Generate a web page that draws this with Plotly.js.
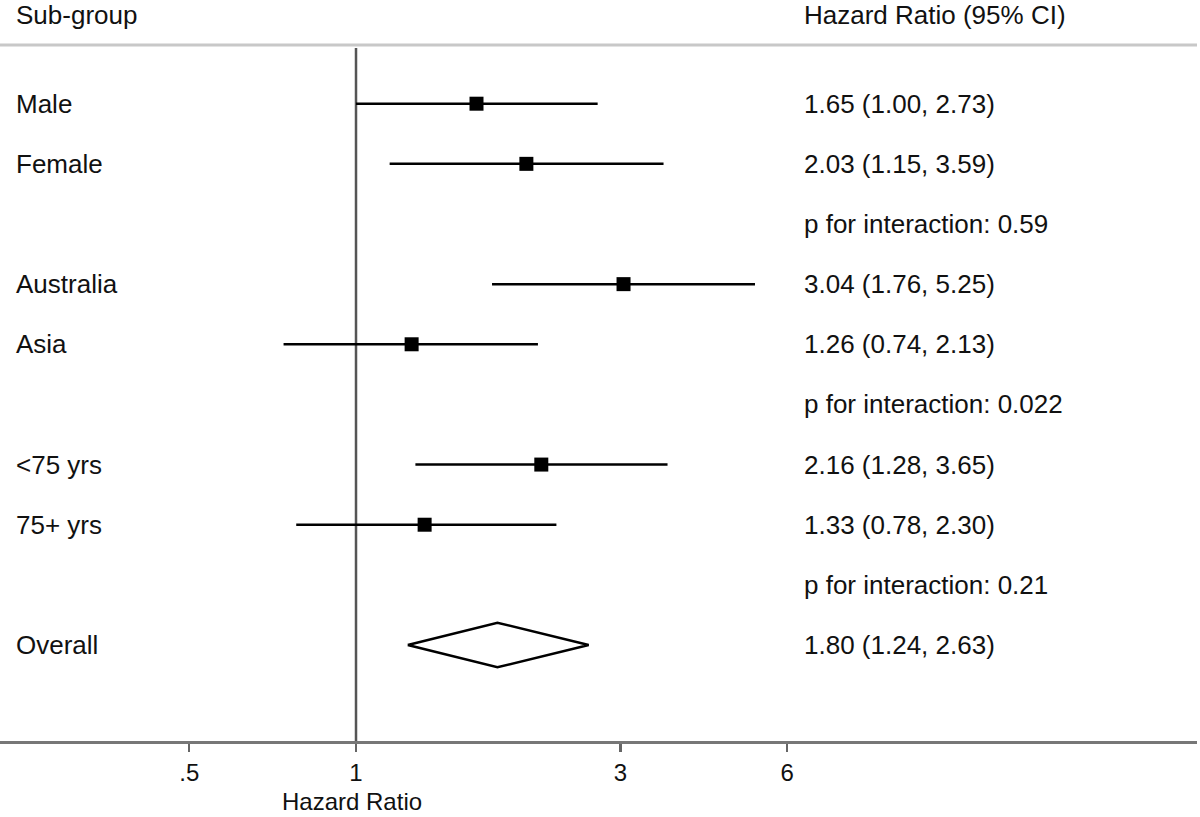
<!DOCTYPE html>
<html>
<head>
<meta charset="utf-8">
<script src="https://cdn.plot.ly/plotly-3.0.1.min.js"></script>
<style>html,body{margin:0;padding:0;background:#fff;}#chart{width:1200px;height:817px;}</style>
</head>
<body>
<div id="chart"></div>
<script>
// ---- data ----
const subgroups = ["Male", "Female", "Australia", "Asia", "<75 yrs", "75+ yrs"];
const hr = [1.65, 2.03, 3.04, 1.26, 2.16, 1.33];
const ciLow = [1.00, 1.15, 1.76, 0.74, 1.28, 0.78];
const ciHigh = [2.73, 3.59, 5.25, 2.13, 3.65, 2.30];
const subgroupRows = [0, 1, 3, 4, 6, 7];
const pInteraction = ["0.59", "0.022", "0.21"];
const pRows = [2, 5, 8];
const overallLabel = "Overall";
const overallHR = 1.80, overallLow = 1.24, overallHigh = 2.63;
const overallRow = 9;
const nullValue = 1;
const tickVals = [0.5, 1, 3, 6];
const tickText = [".5", "1", "3", "6"];

// ---- styling ----
const FONT = "Liberation Sans, Arial, Helvetica, sans-serif";
const FS = 26;
const AXFS = 24;
const COLX = 802 / 1197;
const LEFTX = 14 / 1197;
const DIAMOND_HALF = 0.37;
const Y_RANGE = [10.596, -0.976];

const fmt = v => v.toFixed(2);

// CI lines
const lx = [], ly = [];
subgroups.forEach((s, i) => {
  lx.push(ciLow[i], ciHigh[i], null);
  ly.push(subgroupRows[i], subgroupRows[i], null);
});

const traces = [
  {type: "scatter", mode: "lines", x: [nullValue, nullValue], y: [Y_RANGE[1] + 0.05, Y_RANGE[0]],
   line: {color: "#555", width: 2.5}, hoverinfo: "skip", showlegend: false},
  {type: "scatter", mode: "lines", x: lx, y: ly, line: {color: "#000", width: 2.5}, hoverinfo: "skip", showlegend: false},
  {type: "scatter", mode: "markers", x: hr, y: subgroupRows,
   marker: {symbol: "square", size: 14, color: "#000"}, showlegend: false},
  {type: "scatter", mode: "lines",
   x: [overallLow, overallHR, overallHigh, overallHR, overallLow],
   y: [overallRow, overallRow - DIAMOND_HALF, overallRow, overallRow + DIAMOND_HALF, overallRow],
   fill: "toself", fillcolor: "#fff", line: {color: "#000", width: 2.5}, showlegend: false}
];

const annotations = [];
const addText = (text, xpaper, y) => annotations.push({
  text: text, xref: "paper", x: xpaper, yref: "y", y: y, xanchor: "left", yanchor: "middle",
  showarrow: false, font: {family: FONT, size: FS, color: "#111"}
});
subgroups.forEach((s, i) => {
  addText(s, LEFTX, subgroupRows[i]);
  addText(fmt(hr[i]) + " (" + fmt(ciLow[i]) + ", " + fmt(ciHigh[i]) + ")", COLX, subgroupRows[i]);
});
pInteraction.forEach((p, i) => addText("p for interaction: " + p, COLX, pRows[i]));
addText(overallLabel, LEFTX, overallRow);
addText(fmt(overallHR) + " (" + fmt(overallLow) + ", " + fmt(overallHigh) + ")", COLX, overallRow);

// headers
annotations.push({text: "Sub-group", xref: "paper", x: LEFTX, yref: "paper", y: 1.0431,
  xanchor: "left", yanchor: "middle", showarrow: false, font: {family: FONT, size: FS, color: "#111"}});
annotations.push({text: "Hazard Ratio (95% CI)", xref: "paper", x: COLX, yref: "paper", y: 1.0431,
  xanchor: "left", yanchor: "middle", showarrow: false, font: {family: FONT, size: FS, color: "#111"}});
// axis title
annotations.push({text: "Hazard Ratio", xref: "x", x: 0, xshift: -4, yref: "paper", y: -0.1075,
  xanchor: "center", yanchor: "bottom", borderpad: 0, showarrow: false,
  font: {family: FONT, size: AXFS, color: "#111"}});

const layout = {
  width: 1200, height: 817,
  margin: {l: 0, r: 3, t: 45, b: 76},
  paper_bgcolor: "#fff", plot_bgcolor: "#fff",
  showlegend: false,
  font: {family: FONT, size: FS, color: "#111"},
  xaxis: {
    type: "log", range: [-0.6426, 1.518],
    tickvals: tickVals, ticktext: tickText,
    ticks: "outside", ticklen: 8, tickwidth: 2.5, tickcolor: "#666",
    showline: true, linecolor: "#777", linewidth: 3,
    showgrid: false, zeroline: false,
    tickfont: {family: FONT, size: AXFS, color: "#111"}
  },
  yaxis: {
    range: Y_RANGE, showticklabels: false, ticks: "",
    showgrid: false, zeroline: false, showline: false
  },
  shapes: [
    {type: "line", xref: "paper", x0: 0, x1: 1, yref: "paper", y0: 1, y1: 1,
     line: {color: "#c8c8c8", width: 3}}
  ],
  annotations: annotations
};

Plotly.newPlot("chart", traces, layout, {displayModeBar: false, staticPlot: true});
</script>
</body>
</html>
